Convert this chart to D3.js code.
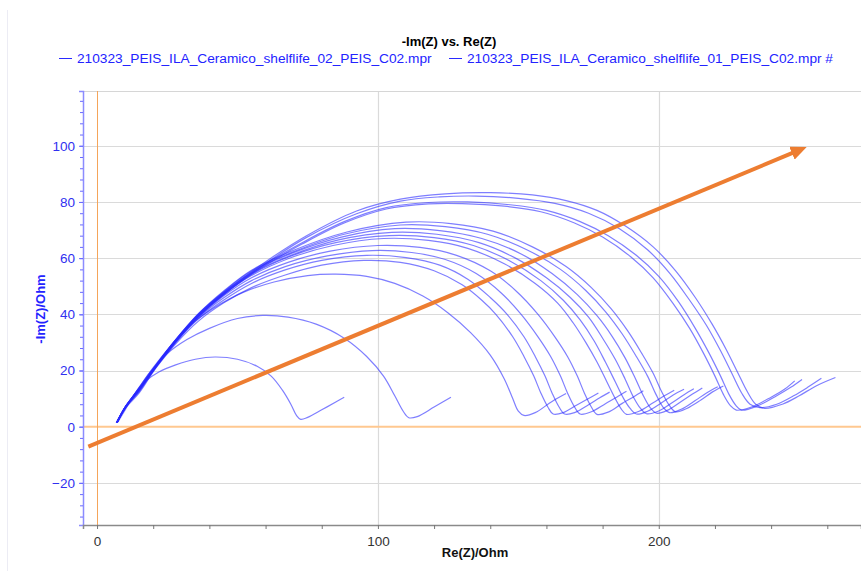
<!DOCTYPE html>
<html>
<head>
<meta charset="utf-8">
<script src="https://cdn.jsdelivr.net/npm/d3@7"></script>
<style>
  body { margin: 0; background: #fff; }
  svg { display: block; font-family: "Liberation Sans", Arial, sans-serif; }
</style>
</head>
<body>
<div id="chart"></div>
<script>
// chart text
var chartTitle = "-Im(Z) vs. Re(Z)";
var legendNames = [
  "210323_PEIS_ILA_Ceramico_shelflife_02_PEIS_C02.mpr",
  "210323_PEIS_ILA_Ceramico_shelflife_01_PEIS_C02.mpr #"
];
var xTicks = [0, 100, 200];
var yTicks = [-20, 0, 20, 40, 60, 80, 100];

// Nyquist loops, [Re(Z), -Im(Z)]
var file02 = [
  [[7.5,1.8],[10,6],[13,11],[17,16],[22,19.5],[28,22],[35,24],[42,24.8],[50,24],[57,21.5],[62,18],[66,13],[69,8],[71,4],[72.5,2.6],[75,3.3],[80,6],[85,8.8],[88,10.5]],
  [[7.2,1.6],[10,6.5],[14,12.5],[19,19.5],[25,26],[32,31],[40,35],[50,38.5],[59,39.6],[68,39],[78,36.5],[88,31.5],[96,25],[102,18],[106,11],[109,5.5],[111,3.2],[114,3.6],[120,7],[126,10.5]],
  [[7,1.5],[10,6.8],[15,14],[20,21],[26,28.5],[33,36],[42,42.5],[52,47.8],[63,51.5],[75,53.8],[85,54.3],[96,53.5],[106,51],[116,46.5],[125,40.5],[133,33.5],[140,25.5],[145,17],[148,10],[150,5.5],[152,4],[156,5],[162,9],[167,11.8]],
  [[7,1.5],[10,6.6],[15,13],[21,21],[28,29.5],[36,37.5],[45,44],[55,49.5],[67,54],[80,57.5],[95,59.2],[108,58.5],[120,55.5],[130,50.5],[137,45],[142,40],[148,32],[152,25],[155.5,18],[158,12],[160.5,7],[162.4,4.5],[166,5],[171,7.8],[175,10],[178.5,12]],
  [[7.2,1.6],[10,6.7],[15,13.2],[21,21.3],[28,30],[36,38.3],[45,45],[55,51],[67,55.8],[80,59.2],[96,61],[110,60.2],[122,57.5],[132,52.5],[140,46],[146,40],[152,32],[156,25],[159.5,18],[162,12],[164.5,7],[166.5,4.5],[170,5],[175,7.8],[179,10.3],[182.5,12.3]],
  [[7,1.4],[10,6.7],[15,13.2],[21,21.4],[28,30.2],[36,38.7],[45,45.8],[55,52],[67,57],[82,60.8],[98,62.7],[112,62],[124,59.5],[135,54.5],[144,47.5],[151,40],[157,32],[161.5,25],[165,18],[167.5,12],[170,7],[172,4.5],[176,5.3],[181,8.2],[185,10.5],[188.5,12.6]],
  [[7.3,1.6],[10,6.8],[15,13.3],[21,21.5],[28,30.4],[36,39],[45,46.5],[55,53],[68,58.5],[83,62.5],[100,64.5],[115,63.8],[128,61],[140,55.5],[149,48.5],[157,40],[163,32],[167.5,25],[171,18],[173.5,12],[176,7],[178,4.4],[182,5.2],[187,8.3],[191,10.6],[194.5,12.8]],
  [[7,1.5],[10,6.8],[15,13.3],[21,21.5],[28,30.5],[36,39.2],[45,47],[55,53.8],[68,59.8],[84,64.5],[102,67],[118,66.3],[132,63.5],[145,58],[156,51],[164,44],[169.5,37],[174,30],[178,23],[181.5,16],[184.5,10],[186.5,6.5],[188.5,4.4],[193,5.5],[198,8.5],[202,11],[205.5,13]],
  [[7.2,1.5],[10,6.9],[15,13.4],[21,21.6],[28,30.6],[36,39.4],[45,47.2],[55,54.2],[68,60.3],[85,65.5],[104,68],[120,67.3],[134,64.5],[147,59],[158,52],[166,45],[172,38],[177,30.5],[181,23],[184.5,16],[187.5,10],[189.8,6.5],[192,4.5],[196,5.5],[201,8.5],[205,11.2],[209,13.3]]
];
var file01 = [
  [[7,1.4],[10,6.9],[15,13.5],[21,21.7],[28,30.7],[36,39.6],[45,47.5],[55,54.6],[69,61],[86,66.5],[105,69.2],[121,68.5],[136,65.5],[149,60],[160,53],[168.5,46],[175,39],[180,31.5],[184.5,24],[188,17],[191,10.5],[193.5,6.5],[195.6,4.6],[200,5.6],[205,8.7],[209,11.4],[212.5,13.5]],
  [[7.3,1.6],[10,6.9],[15,13.5],[21,21.8],[28,30.8],[36,39.8],[45,47.8],[55,55],[69,61.6],[87,67.5],[106,70.5],[122,69.8],[137,67],[151,61.5],[162,54.5],[171,47],[178,39.5],[183.5,32],[188,24.5],[191.5,17.5],[194.5,11],[197,6.7],[199.2,4.8],[203,5.8],[208,9],[212,11.6],[215.5,13.8]],
  [[7,1.5],[10,7],[15,13.6],[21,21.9],[28,31],[36,40],[45,48],[55,55.4],[70,62.3],[88,68.5],[108,71.8],[124,71.2],[139,68.5],[153,63],[165,56],[174,48.5],[181,41],[187,33],[192,25],[196,18],[199,11.5],[201.5,7],[203.9,5],[208,6.2],[213,9.3],[217,12],[221,14.2]],
  [[7.2,1.5],[10,7],[15,13.6],[21,22],[28,31],[36,40.1],[45,48.2],[55,55.7],[70,62.8],[89,69.3],[110,72.8],[126,72.3],[141,69.6],[155,64],[167,57],[176,49.5],[183,42],[189,34],[194,26],[198,19],[201,12.5],[203.8,7.5],[206,5.3],[210,6.5],[215,9.5],[219,12.3],[223,14.5]],
  [[6.8,1.4],[10,6.5],[15,12],[21,21],[28,30],[36,39],[47,48.5],[60,57.5],[73,65],[88,72.5],[103,77.5],[118,79.3],[130,79.4],[145,78.5],[158,76.5],[170,72.5],[180,67.5],[190,60.5],[198,53],[205,44],[211,35],[216,26],[220,18],[223,11.5],[225.5,7.5],[227.6,5.9],[233,7],[240,10.5],[245,13.5],[248.4,16.3]],
  [[7,1.5],[10,6.8],[15,12.5],[21,21.3],[28,30.3],[36,39.3],[47,49],[60,58],[73,65.5],[88,73],[103,78],[118,79.8],[132,80],[147,79],[160,77],[172,73],[182,68],[192,61],[200,53.5],[207,44.5],[213,35],[218,26],[222,18],[225,11.5],[227.5,7.5],[229.4,5.9],[235,7.3],[242,11],[247,14],[251,16.8]],
  [[7.2,1.6],[10,6.8],[15,12.8],[21,21.6],[28,30.8],[36.7,40.3],[48.5,49.7],[61.6,59.2],[74.6,67.4],[92.4,75.8],[108,80.3],[122,81.8],[135,82.1],[150,81.3],[163,79.5],[175,76],[186,70.5],[196,63],[204,54.5],[211,45],[217,36],[222,27],[226,19],[229.5,12],[232.5,8],[236,6.8],[242,8],[248,11],[253,14],[257.9,17.2]],
  [[7,1.5],[10,7],[15.3,13],[21.2,22],[28.4,31.3],[36.7,40.8],[48.5,50.3],[61.6,59.8],[74.6,68],[92.4,76.8],[108,81],[124,82.9],[140,83.3],[155,82.5],[167,80.5],[178,77],[188,71.5],[198,64],[206,55.5],[213,46],[219,36.5],[224,27.5],[228,19.5],[231.5,12.5],[234.5,8],[237.7,6.5],[244,8],[250,11],[256,14.5],[262.9,17.5]]
];

// trend arrow drawn over the loops
var arrowFrom = [-3.1, -7.1];
var arrowTo = [253, 99.7];

var W = 861, H = 571;
var plot = {left: 83, right: 861, top: 91, bottom: 525};
var lineBlue = "#2a2aff";

var svg = d3.select("#chart").append("svg")
  .attr("width", W)
  .attr("height", H);

var xScale = d3.scaleLinear().domain([-5, 272]).range([plot.left, plot.right]);
var yScale = d3.scaleLinear().domain([-35, 119.5]).range([plot.bottom, plot.top]);

// faint page frame on the left
svg.append("line")
  .attr("x1", 7.5).attr("x2", 7.5)
  .attr("y1", 10).attr("y2", H)
  .attr("stroke", "#ececf4").attr("stroke-width", 1);

// title and legend
svg.append("text")
  .attr("x", 449).attr("y", 46)
  .attr("text-anchor", "middle")
  .attr("font-size", "13px").attr("font-weight", "bold")
  .attr("fill", "#000")
  .text(chartTitle);

var legendX = [59, 449];
legendNames.forEach(function(name, i) {
  svg.append("line")
    .attr("x1", legendX[i]).attr("x2", legendX[i] + 13)
    .attr("y1", 58.5).attr("y2", 58.5)
    .attr("stroke", lineBlue).attr("stroke-width", 1);
  svg.append("text")
    .attr("x", legendX[i] + 18).attr("y", 63)
    .attr("font-size", "13.7px")
    .attr("fill", "#2323ff")
    .text(name);
});

// grid
var grid = svg.append("g");
grid.selectAll(".gy").data(yTicks.filter(function(d) { return d != 0; }))
  .enter().append("line")
  .attr("x1", plot.left).attr("x2", plot.right)
  .attr("y1", function(d) { return Math.round(yScale(d)) + 0.5; })
  .attr("y2", function(d) { return Math.round(yScale(d)) + 0.5; })
  .attr("stroke", "#dadada").attr("stroke-width", 1.2);
grid.selectAll(".gx").data(xTicks.filter(function(d) { return d != 0; }))
  .enter().append("line")
  .attr("y1", plot.top).attr("y2", plot.bottom)
  .attr("x1", function(d) { return Math.round(xScale(d)) + 0.5; })
  .attr("x2", function(d) { return Math.round(xScale(d)) + 0.5; })
  .attr("stroke", "#dadada").attr("stroke-width", 1.2);
// top frame
grid.append("line")
  .attr("x1", plot.left).attr("x2", plot.right)
  .attr("y1", plot.top + 0.5).attr("y2", plot.top + 0.5)
  .attr("stroke", "#d6d6d6");

// zero lines
svg.append("line")
  .attr("x1", plot.left).attr("x2", plot.right)
  .attr("y1", yScale(0)).attr("y2", yScale(0))
  .attr("stroke", "#ffc890").attr("stroke-width", 2);
svg.append("line")
  .attr("x1", Math.round(xScale(0)) + 0.5).attr("x2", Math.round(xScale(0)) + 0.5)
  .attr("y1", plot.top).attr("y2", plot.bottom)
  .attr("stroke", "#f5a55a").attr("stroke-width", 1);

// --- AXES --- //
var yMinor = [];
for (var v = -32; v <= 116; v += 4) yMinor.push(v);
var xMinor = [];
for (var u = 0; u <= 260; u += 20) xMinor.push(u);

var yAxis = svg.append("g")
  .attr("transform", "translate(" + plot.left + ",0)")
  .call(d3.axisLeft(yScale).tickValues(yTicks).tickSize(4).tickPadding(4));
svg.append("g")
  .attr("transform", "translate(" + plot.left + ",0)")
  .call(d3.axisLeft(yScale).tickValues(yMinor).tickSize(3).tickFormat(""))
  .call(function(g) { g.select(".domain").remove(); })
  .selectAll("line").attr("stroke", "#6a6aff");
yAxis.select(".domain").attr("stroke", "#8c8cff").attr("stroke-width", 1.5);
yAxis.selectAll(".tick line").attr("stroke", "#6a6aff");
yAxis.selectAll("text")
  .attr("fill", "#3030f0")
  .attr("font-size", "13.5px")
  .attr("font-family", "Liberation Sans, Arial, sans-serif");

var xAxis = svg.append("g")
  .attr("transform", "translate(0," + plot.bottom + ")")
  .call(d3.axisBottom(xScale).tickValues(xMinor).tickSize(4)
    .tickFormat(function(d) { return xTicks.indexOf(d) >= 0 ? d : ""; }));
xAxis.select(".domain").attr("stroke", "#8a8a8a").attr("stroke-width", 1.5);
xAxis.selectAll(".tick line").attr("stroke", "#777");
xAxis.selectAll("text")
  .attr("fill", "#333")
  .attr("dy", "1.05em")
  .attr("font-size", "13.5px")
  .attr("font-family", "Liberation Sans, Arial, sans-serif");

svg.append("text")
  .attr("x", 475).attr("y", 557)
  .attr("text-anchor", "middle")
  .attr("font-size", "13px").attr("font-weight", "bold")
  .attr("fill", "#111")
  .text("Re(Z)/Ohm");
svg.append("text")
  .attr("transform", "translate(45,309) rotate(-90)")
  .attr("text-anchor", "middle")
  .attr("font-size", "13px").attr("font-weight", "bold")
  .attr("fill", "#2323ff")
  .text("-Im(Z)/Ohm");

// Plot
var line = d3.line()
  .x(function(d) { return xScale(d[0]); })
  .y(function(d) { return yScale(d[1]); })
  .curve(d3.curveCatmullRom.alpha(0.5));

var loops = svg.append("g").attr("id", "loops");
file02.concat(file01).forEach(function(pts) {
  loops.append("path")
    .datum(pts)
    .attr("fill", "none")
    .attr("stroke", lineBlue)
    .attr("stroke-opacity", 0.6)
    .attr("stroke-width", 1.2)
    .attr("d", line);
});

// orange arrow
var defs = svg.append("defs");
defs.append("marker")
  .attr("id", "head")
  .attr("markerUnits", "userSpaceOnUse")
  .attr("viewBox", "0 0 16 14")
  .attr("refX", 2).attr("refY", 7)
  .attr("markerWidth", 16).attr("markerHeight", 14)
  .attr("orient", "auto")
  .append("path")
  .attr("d", "M0,0 L16,7 L0,14 Z")
  .attr("fill", "#ed7d31");

var ax1 = xScale(arrowFrom[0]), ay1 = yScale(arrowFrom[1]);
var ax2 = xScale(arrowTo[0]), ay2 = yScale(arrowTo[1]);
var len = Math.sqrt((ax2 - ax1) * (ax2 - ax1) + (ay2 - ay1) * (ay2 - ay1));
var shorten = 15;
svg.append("line")
  .attr("x1", ax1).attr("y1", ay1)
  .attr("x2", ax2 - (ax2 - ax1) * shorten / len)
  .attr("y2", ay2 - (ay2 - ay1) * shorten / len)
  .attr("stroke", "#ed7d31")
  .attr("stroke-width", 4)
  .attr("marker-end", "url(#head)");
</script>
</body>
</html>
